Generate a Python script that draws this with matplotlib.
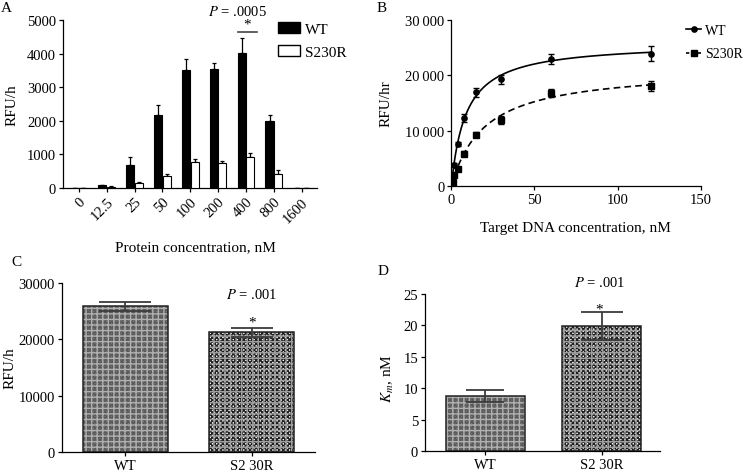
import numpy as np
import matplotlib
matplotlib.use("Agg")
import matplotlib.pyplot as plt
from matplotlib.patches import Patch
from matplotlib.lines import Line2D

plt.rcParams['font.family'] = ['Liberation Serif', 'DejaVu Serif']
plt.rcParams['mathtext.fontset'] = 'stix'
plt.rcParams['font.size'] = 10.5
plt.rcParams['axes.linewidth'] = 0.9
plt.rcParams['xtick.major.width'] = 0.9
plt.rcParams['ytick.major.width'] = 0.9
plt.rcParams['xtick.major.size'] = 3
plt.rcParams['ytick.major.size'] = 3
plt.rcParams['hatch.linewidth'] = 1.0

FS = 10.5

# ---------------- Data ----------------
# Panel A
conc_labels = ['0', '12.5', '25', '50', '100', '200', '400', '800', '1600']
wt_rfu = [10, 80, 680, 2180, 3520, 3550, 4020, 1980, 10]
wt_err = [0, 15, 230, 290, 330, 180, 450, 180, 0]
mut_rfu = [5, 40, 140, 350, 770, 730, 910, 430, 5]
mut_err = [0, 10, 25, 80, 80, 60, 120, 120, 0]

# Panel B
dna_conc = [0.94, 1.875, 3.75, 7.5, 15, 30, 60, 120]
wt_rate = [2000, 3900, 7600, 12300, 16900, 19300, 23000, 23900]
wt_rate_err = [300, 300, 400, 700, 800, 800, 900, 1300]
mut_rate = [700, 2100, 3100, 5900, 9300, 12000, 16800, 18000]
mut_rate_err = [200, 200, 300, 400, 400, 700, 700, 900]

# Panel C
groups = ['WT', 'S2 30R']
vmax = [25900, 21300]
vmax_err = [800, 800]

# Panel D
km = [8.8, 19.9]
km_err = [0.93, 2.25]

W, H = 746, 477
fig = plt.figure(figsize=(W / 100, H / 100), dpi=100)


def ax_px(left, right, top, bottom):
    return fig.add_axes([left / W, 1 - bottom / H, (right - left) / W, (bottom - top) / H])


def style(ax):
    ax.spines['top'].set_visible(False)
    ax.spines['right'].set_visible(False)
    ax.tick_params(direction='out', length=3, pad=2, labelsize=FS)


# ---------------- Panel A ----------------
axA = ax_px(63, 317, 21, 189)
style(axA)
x = np.arange(len(conc_labels))
bw = 0.29
axA.bar(x - 0.155, wt_rfu, bw, color='black', edgecolor='black', linewidth=0.8, zorder=3)
axA.bar(x + 0.155, mut_rfu, bw, color='white', edgecolor='black', linewidth=0.8, zorder=3)
axA.errorbar(x - 0.155, wt_rfu, yerr=[np.zeros(len(x)), wt_err], fmt='none',
             ecolor='black', elinewidth=0.9, capsize=1.6, capthick=0.9, zorder=2)
axA.errorbar(x + 0.155, mut_rfu, yerr=[np.zeros(len(x)), mut_err], fmt='none',
             ecolor='black', elinewidth=0.9, capsize=1.6, capthick=0.9, zorder=2)
axA.set_xlim(-0.57, 8.55)
axA.set_ylim(0, 5000)
axA.set_yticks([0, 1000, 2000, 3000, 4000, 5000])
axA.set_xticks(x)
axA.set_xticklabels(conc_labels, rotation=45, ha='right', rotation_mode='anchor')
axA.set_ylabel('RFU/h', fontsize=11)
axA.yaxis.set_label_coords(-0.177, 0.5)
axA.set_xlabel('Protein concentration, nM', fontsize=11)
axA.xaxis.set_label_coords(0.52, -0.31)
axA.plot([5.71, 6.40], [4650, 4650], color='#444444', lw=1.2, clip_on=False)
axA.text(6.05, 4680, '*', ha='center', va='bottom', fontsize=11)
axA.text(5.7, 5270, '$P$ = .0005', ha='center', va='center', fontsize=FS)
axA.legend(handles=[Patch(facecolor='black', edgecolor='black', label='WT'),
                    Patch(facecolor='white', edgecolor='black', label='S230R')],
           loc='upper left', bbox_to_anchor=(278 / W, 1 - 23 / H),
           bbox_transform=fig.transFigure, frameon=False, borderpad=0,
           borderaxespad=0, handlelength=1.45, handleheight=0.75,
           handletextpad=0.3, labelspacing=0.6, fontsize=11)
fig.text(6 / W, 1 - 9 / H, 'A', fontsize=11, ha='center', va='center')

# ---------------- Panel B ----------------
axB = ax_px(451.3, 700.7, 20.7, 187.3)
style(axB)
xs = np.linspace(0, 120, 300)
axB.plot(xs, vmax[0] * xs / (km[0] + xs), color='black', lw=1.2)
axB.plot(xs, vmax[1] * xs / (km[1] + xs), color='black', lw=1.2, ls=(0, (4, 2.5)))
axB.errorbar(dna_conc, wt_rate, yerr=wt_rate_err, fmt='o', color='black', ms=3.8,
             ecolor='black', elinewidth=1.0, capsize=2.2, capthick=1.0)
axB.errorbar(dna_conc, mut_rate, yerr=mut_rate_err, fmt='s', color='black', ms=3.8,
             ecolor='black', elinewidth=1.0, capsize=2.2, capthick=1.0)
axB.set_xlim(0, 150)
axB.set_ylim(0, 30000)
axB.set_xticks([0, 50, 100, 150])
axB.set_yticks([0, 10000, 20000, 30000])
axB.set_yticklabels(['0', '10\u2009000', '20\u2009000', '30\u2009000'])
axB.set_ylabel('RFU/hr', fontsize=11)
axB.yaxis.set_label_coords(-0.234, 0.5)
axB.set_xlabel('Target DNA concentration, nM', fontsize=11)
axB.xaxis.set_label_coords(0.498, -0.208)
axB.legend(handles=[Line2D([], [], color='black', marker='o', ms=3.8, lw=1.2, label='WT'),
                    Line2D([], [], color='black', marker='s', ms=3.8, lw=1.2,
                           ls=(0, (2, 1.5)), label='S230R')],
           loc='upper left', bbox_to_anchor=(686 / W, 1 - 25 / H),
           bbox_transform=fig.transFigure, frameon=False, borderpad=0,
           borderaxespad=0, handlelength=1.1, handletextpad=0.25,
           labelspacing=0.75, fontsize=10)
fig.text(382 / W, 1 - 8 / H, 'B', fontsize=11, ha='center', va='center')


# ---------------- Panels C and D ----------------
def textured_bars(ax, vals, width):
    xpos = np.arange(len(vals))
    # WT: gray plaid
    ax.bar(xpos[0], vals[0], width, color='#8a8a8a', edgecolor='#5a5a5a',
           hatch='xxxxxxxxxx', linewidth=0, zorder=2)
    ax.bar(xpos[0], vals[0], width, color='none', edgecolor='#b0b0b0',
           hatch='+++', linewidth=0, zorder=2.1)
    # mutant: checker
    ax.bar(xpos[1], vals[1], width, color='#f4f4f4', edgecolor='#1e1e1e',
           hatch='xxxxxxxx', linewidth=0, zorder=2)
    ax.bar(xpos[1], vals[1], width, color='none', edgecolor='#a0a0a0',
           hatch='+++', linewidth=0, zorder=2.1)
    ax.bar(xpos, vals, width, fill=False, edgecolor='#222222', linewidth=1.1, zorder=3)
    return xpos


axC = ax_px(62, 315, 284, 453)
style(axC)
xc = textured_bars(axC, vmax, 0.67)
axC.errorbar(xc[0], vmax[0], yerr=vmax_err[0], fmt='none', ecolor='#3c3c3c',
             elinewidth=1.3, capsize=18.5, capthick=1.3, zorder=4)
axC.errorbar(xc[1], vmax[1], yerr=vmax_err[1], fmt='none', ecolor='#3c3c3c',
             elinewidth=1.3, capsize=15, capthick=1.3, zorder=4)
axC.set_xlim(-0.5, 1.5)
axC.set_ylim(0, 30000)
axC.set_yticks([0, 10000, 20000, 30000])
axC.set_xticks(xc)
axC.set_xticklabels(groups)
axC.set_ylabel('RFU/h', fontsize=11)
axC.yaxis.set_label_coords(-0.178, 0.5)
axC.text(1, 28050, '$P$ = .001', ha='center', va='center', fontsize=FS)
axC.text(1, 23000, '*', ha='center', va='center', fontsize=11)
fig.text(16 / W, 1 - 263 / H, 'C', fontsize=11, ha='center', va='center')

axD = ax_px(425, 660, 295, 452)
style(axD)
xd = textured_bars(axD, km, 0.68)
axD.errorbar(xd[0], km[0], yerr=km_err[0], fmt='none', ecolor='#3c3c3c',
             elinewidth=1.3, capsize=14, capthick=1.3, zorder=4)
axD.errorbar(xd[1], km[1], yerr=km_err[1], fmt='none', ecolor='#3c3c3c',
             elinewidth=1.3, capsize=15, capthick=1.3, zorder=4)
axD.set_xlim(-0.52, 1.5)
axD.set_ylim(0, 25)
axD.set_yticks([0, 5, 10, 15, 20, 25])
axD.set_xticks(xd)
axD.set_xticklabels(groups)
axD.set_ylabel('$K_m$, nM', fontsize=11)
axD.yaxis.set_label_coords(-0.123, 0.47)
axD.text(0.98, 26.9, '$P$ = .001', ha='center', va='center', fontsize=FS, clip_on=False)
axD.text(0.98, 22.6, '*', ha='center', va='center', fontsize=11)
fig.text(383 / W, 1 - 272 / H, 'D', fontsize=11, ha='center', va='center')

fig.savefig('out.png', dpi=100)
